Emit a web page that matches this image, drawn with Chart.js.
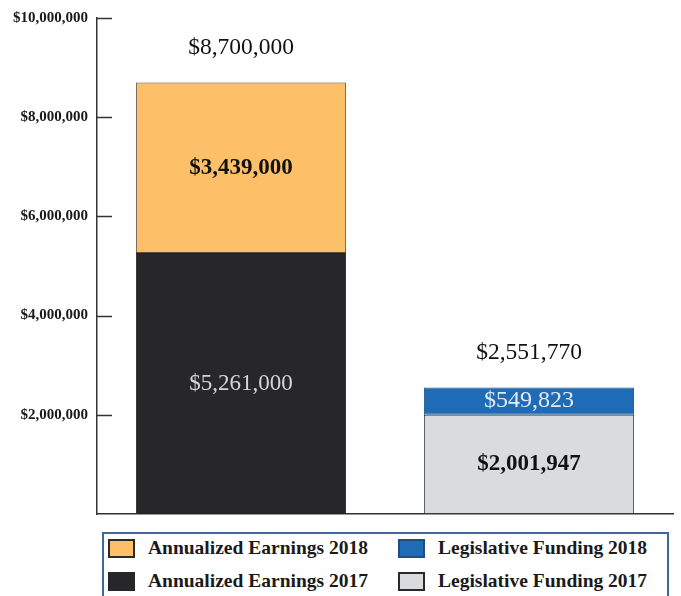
<!DOCTYPE html>
<html>
<head>
<meta charset="utf-8">
<script src="https://cdn.jsdelivr.net/npm/chart.js@4.4.1/dist/chart.umd.min.js"></script>
<style>
  body { margin: 0; background: #fff; }
  #wrap { position: relative; width: 681px; height: 596px; overflow: hidden; }
  #chart { position: absolute; left: 0; top: 0; }
  #legend {
    position: absolute; left: 102px; top: 532px; width: 567px; height: 80px;
    border: 2px solid #3d67a3; box-sizing: border-box;
    font-family: "Liberation Serif", serif; font-weight: bold; font-size: 19.5px; color: #1a1a1a;
  }
  .item { position: absolute; display: flex; align-items: center; height: 22px; }
  .sw { width: 27px; height: 19px; box-sizing: border-box; margin-right: 13px; }
</style>
</head>
<body>
<div id="wrap">
  <canvas id="chart" width="681" height="532"></canvas>
  <div id="legend"></div>
</div>
<script>
const categories = ['Annualized Earnings', 'Legislative Funding'];
const earnings2017 = [5261000, null];
const earnings2018 = [3439000, null];
const funding2017 = [null, 2001947];
const funding2018 = [null, 549823];
const yTicks = [0, 2000000, 4000000, 6000000, 8000000, 10000000];

const fmt = v => '$' + v.toLocaleString('en-US');

const datasets = [
  { label: 'Annualized Earnings 2017', data: earnings2017, backgroundColor: '#27272a', borderColor: '#222',
    swBorder: '#27272a', valColor: '#d6d6d6', valFont: '23px "Liberation Serif"' },
  { label: 'Annualized Earnings 2018', data: earnings2018, backgroundColor: '#fdbf68', borderColor: '#5a5040',
    swBorder: '#2a2a2a', valColor: '#111', valFont: 'bold 23px "Liberation Serif"' },
  { label: 'Legislative Funding 2017', data: funding2017, backgroundColor: '#dadbdd', borderColor: '#3a3a3a',
    swBorder: '#2a2a2a', valColor: '#111', valFont: 'bold 23px "Liberation Serif"' },
  { label: 'Legislative Funding 2018', data: funding2018, backgroundColor: '#1f6bb5', borderColor: '#1d4f86',
    swBorder: '#1d4f86', valColor: '#e4e9f0', valFont: '24px "Liberation Serif"' }
];

// legend, in the order of the reference box
const legendOrder = [1, 3, 0, 2];
const legend = document.getElementById('legend');
legendOrder.forEach((di, i) => {
  const ds = datasets[di];
  const el = document.createElement('div');
  el.className = 'item';
  el.style.left = (i % 2 === 0 ? 4 : 294) + 'px';
  el.style.top = (i < 2 ? 3 : 36) + 'px';
  const sw = document.createElement('span');
  sw.className = 'sw';
  sw.style.background = ds.backgroundColor;
  sw.style.border = '2px solid ' + ds.swBorder;
  el.appendChild(sw);
  el.appendChild(document.createTextNode(ds.label));
  legend.appendChild(el);
});

const barLabels = {
  id: 'barLabels',
  afterDatasetsDraw(chart) {
    const ctx = chart.ctx;
    ctx.save();
    ctx.textAlign = 'center';
    ctx.textBaseline = 'middle';
    const tops = {};
    chart.data.datasets.forEach((ds, di) => {
      chart.getDatasetMeta(di).data.forEach((bar, i) => {
        const v = ds.data[i];
        if (v == null) return;
        const { x, y, base } = bar.getProps(['x', 'y', 'base'], true);
        ctx.fillStyle = ds.valColor;
        ctx.font = ds.valFont;
        ctx.fillText(fmt(v), x, (y + base) / 2);
        if (!tops[i] || y < tops[i].y) tops[i] = { x, y };
      });
    });
    ctx.fillStyle = '#111';
    ctx.font = '23.5px "Liberation Serif"';
    categories.forEach((c, i) => {
      const total = chart.data.datasets.reduce((s, ds) => s + (ds.data[i] || 0), 0);
      if (tops[i]) ctx.fillText(fmt(total), tops[i].x, tops[i].y - 35);
    });
    ctx.restore();
  }
};

// short tick marks drawn inward from the y axis
const innerTicks = {
  id: 'innerTicks',
  afterDraw(chart) {
    const ctx = chart.ctx, y = chart.scales.y, left = chart.chartArea.left;
    ctx.save();
    ctx.strokeStyle = '#333';
    ctx.lineWidth = 1.5;
    y.ticks.forEach(t => {
      const py = Math.round(y.getPixelForValue(t.value)) + 0.5;
      if (t.value === 0) return;
      ctx.beginPath();
      ctx.moveTo(left - 1, py);
      ctx.lineTo(left + 15, py);
      ctx.stroke();
    });
    ctx.restore();
  }
};

new Chart(document.getElementById('chart'), {
  type: 'bar',
  data: {
    labels: categories,
    datasets: datasets.map(ds => ({ ...ds, borderWidth: 1, borderSkipped: false, stack: 's' }))
  },
  options: {
    responsive: false,
    animation: false,
    layout: { padding: { left: 4, right: 8, top: 16, bottom: 6 } },
    plugins: { legend: { display: false }, tooltip: { enabled: false } },
    datasets: { bar: { barPercentage: 0.73, categoryPercentage: 1 } },
    scales: {
      x: {
        stacked: true,
        grid: { display: false, drawTicks: false },
        border: { display: true, color: '#333', width: 1.5 },
        ticks: { display: false }
      },
      y: {
        stacked: true,
        min: 0,
        max: 10000000,
        afterBuildTicks: s => { s.ticks = yTicks.map(v => ({ value: v })); },
        grid: { display: false, drawTicks: false },
        border: { display: true, color: '#333', width: 1.5 },
        ticks: {
          padding: 9,
          color: '#1a1a1a',
          font: { family: 'Liberation Serif', size: 15, weight: 'bold' },
          callback: v => v === 0 ? '' : fmt(v)
        }
      }
    }
  },
  plugins: [barLabels, innerTicks]
});
</script>
</body>
</html>
